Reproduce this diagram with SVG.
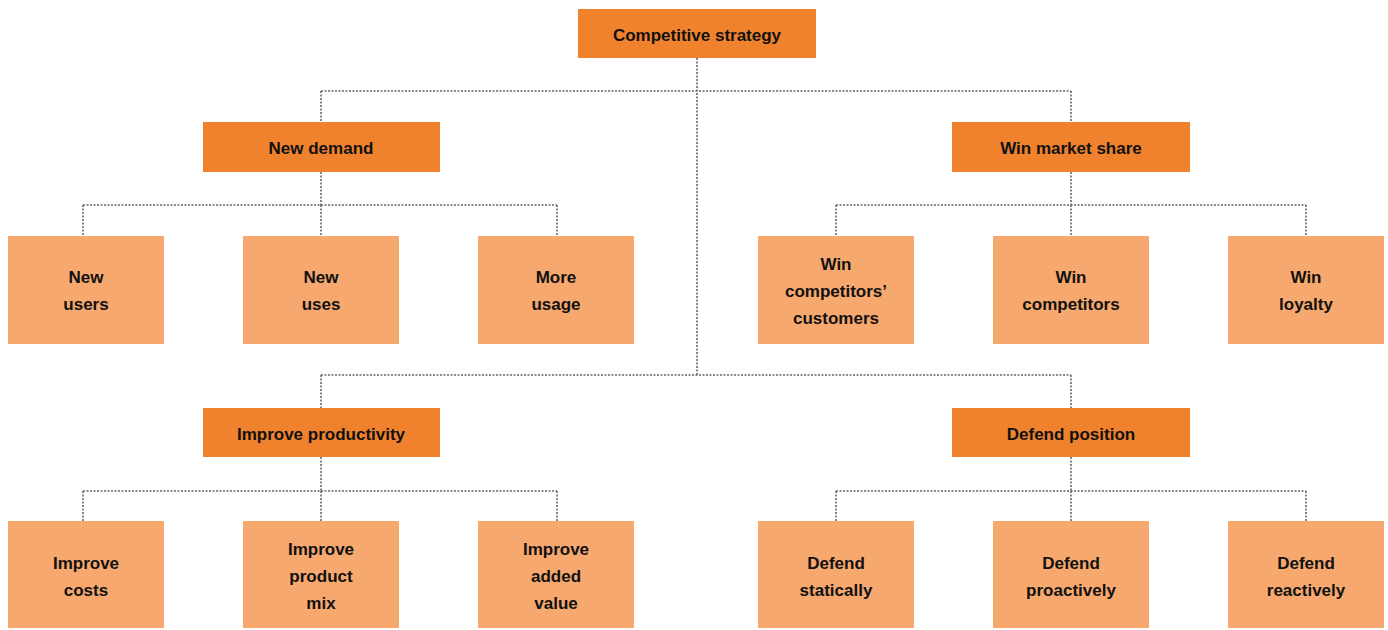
<svg xmlns="http://www.w3.org/2000/svg" width="1388" height="630" viewBox="0 0 1388 630">
<style>
.h{fill:#f0822e}
.l{fill:#f6a86e}
text{font-family:"Liberation Sans",Arial,sans-serif;font-weight:bold;font-size:17px;fill:#111;text-anchor:middle}
.c{fill:none;stroke:#666;stroke-width:1.6;stroke-dasharray:2 1.5}
</style>
<rect width="1388" height="630" fill="#fff"/>
<g id="connectors">
<path class="c" d="M697 58V375M321 91H1071M321 91V122M1071 91V122"/>
<path class="c" d="M321 172V205M83 205H557M83 205V236M321 205V236M557 205V236"/>
<path class="c" d="M1071 172V205M836 205H1306M836 205V236M1071 205V236M1306 205V236"/>
<path class="c" d="M321 375H1071M321 375V408M1071 375V408"/>
<path class="c" d="M321 457V491M83 491H557M83 491V521M321 491V521M557 491V521"/>
<path class="c" d="M1071 457V491M836 491H1306M836 491V521M1071 491V521M1306 491V521"/>
</g>
<g id="root"><rect class="h" x="578" y="9" width="238" height="49"/><text x="697" y="41">Competitive strategy</text></g>
<g id="new-demand"><rect class="h" x="203" y="122" width="237" height="50"/><text x="321" y="154">New demand</text></g>
<g id="win-market-share"><rect class="h" x="952" y="122" width="238" height="50"/><text x="1071" y="154">Win market share</text></g>
<g id="improve-productivity"><rect class="h" x="203" y="408" width="237" height="49"/><text x="321" y="440">Improve productivity</text></g>
<g id="defend-position"><rect class="h" x="952" y="408" width="238" height="49"/><text x="1071" y="440">Defend position</text></g>
<g id="new-users"><rect class="l" x="8" y="236" width="156" height="108"/><text x="86" y="283">New</text><text x="86" y="310">users</text></g>
<g id="new-uses"><rect class="l" x="243" y="236" width="156" height="108"/><text x="321" y="283">New</text><text x="321" y="310">uses</text></g>
<g id="more-usage"><rect class="l" x="478" y="236" width="156" height="108"/><text x="556" y="283">More</text><text x="556" y="310">usage</text></g>
<g id="win-competitors-customers"><rect class="l" x="758" y="236" width="156" height="108"/><text x="836" y="270">Win</text><text x="836" y="297">competitors’</text><text x="836" y="324">customers</text></g>
<g id="win-competitors"><rect class="l" x="993" y="236" width="156" height="108"/><text x="1071" y="283">Win</text><text x="1071" y="310">competitors</text></g>
<g id="win-loyalty"><rect class="l" x="1228" y="236" width="156" height="108"/><text x="1306" y="283">Win</text><text x="1306" y="310">loyalty</text></g>
<g id="improve-costs"><rect class="l" x="8" y="521" width="156" height="107"/><text x="86" y="569">Improve</text><text x="86" y="596">costs</text></g>
<g id="improve-product-mix"><rect class="l" x="243" y="521" width="156" height="107"/><text x="321" y="555">Improve</text><text x="321" y="582">product</text><text x="321" y="609">mix</text></g>
<g id="improve-added-value"><rect class="l" x="478" y="521" width="156" height="107"/><text x="556" y="555">Improve</text><text x="556" y="582">added</text><text x="556" y="609">value</text></g>
<g id="defend-statically"><rect class="l" x="758" y="521" width="156" height="107"/><text x="836" y="569">Defend</text><text x="836" y="596">statically</text></g>
<g id="defend-proactively"><rect class="l" x="993" y="521" width="156" height="107"/><text x="1071" y="569">Defend</text><text x="1071" y="596">proactively</text></g>
<g id="defend-reactively"><rect class="l" x="1228" y="521" width="156" height="107"/><text x="1306" y="569">Defend</text><text x="1306" y="596">reactively</text></g>
</svg>
